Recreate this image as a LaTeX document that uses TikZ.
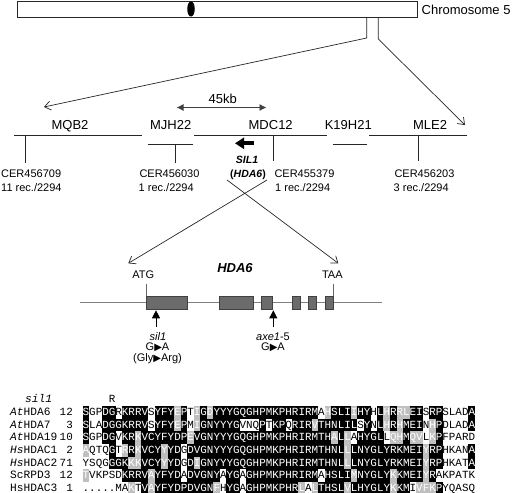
\documentclass[tikz,border=0pt]{standalone}
\usepackage{fontspec}
\setmainfont{Liberation Sans}
\newfontfamily\monof{Liberation Mono}
\newfontfamily\symf{DejaVu Sans}
\usetikzlibrary{arrows.meta,shapes.geometric}
\def\fillcolB{black}
\def\fillcolG{black!25}
\def\fillcolW{none}
\def\txtcolB{white}
\def\txtcolG{white}
\def\txtcolW{black}
\def\axo{82.7}
\def\ayo{412.4}
\def\acw{6.54}
\def\arh{12.65}
\newcommand\alignrow[2]{%
  \foreach \ch/\sh [count=\i] in {#2} {
    \path[fill=\csname fillcol\sh\endcsname] ({\axo+(\i-1)*\acw-0.1},{\ayo+(#1-1)*\arh-\arh/2-0.1}) rectangle ++({\acw+0.2},{\arh+0.2});
    \node[aln, text=\csname txtcol\sh\endcsname] (r#1c\i) at ({\axo+(\i-0.5)*\acw},{\ayo+(#1-1)*\arh}) {\ch};
  }}
\newcommand\tri{{\symf\fontsize{10}{10}\selectfont ▶}}
\begin{document}
\begin{tikzpicture}[x=1pt,y=-1pt,
  lab/.style={font=\fontsize{13}{15}\selectfont, inner sep=0, text height=9.3pt, text depth=0pt},
  sm/.style={font=\fontsize{11}{13}\selectfont, inner sep=0, text height=7.9pt, text depth=0pt},
  ln/.style={draw=black!85, line width=0.7pt},
  barb/.style={-{Straight Barb[length=6pt,width=9pt]}},
  aln/.style={font=\monof\fontsize{10.9}{12}\selectfont, inner sep=0, text height=6.2pt, text depth=0pt},
  nm/.style={font=\monof\fontsize{11.2}{13}\selectfont, inner sep=0, text height=6.4pt, text depth=0pt},
  exon/.style={fill=black!58, draw=black!75, line width=0.6pt}]
\useasboundingbox (0,0) rectangle (512,493);

% chromosome
\node[draw=black!85, line width=0.6pt, minimum width=400pt, minimum height=16pt, inner sep=0, anchor=north west] (chr) at (17,1) {};
\node[ellipse, fill=black, minimum width=7.5pt, minimum height=15pt, inner sep=0] (cen) at (191,9) {};
\node[lab, anchor=west] (chrlab) at (421.5,9.5) {Chromosome 5};
\coordinate (t1) at (366.7,17);
\coordinate (t1b) at (366.7,38);
\coordinate (t2) at (378.3,17);
\coordinate (t2b) at (378.3,39);
\coordinate (aL) at (44,107);
\coordinate (aR) at (465,125);
\draw[ln, barb] (t1) -- (t1b) -- (aL);
\draw[ln, barb] (t2) -- (t2b) -- (aR);

% 45 kb
\node[lab] (kb) at (222.7,99) {45kb};
\coordinate (kbL) at (176.5,107.5);
\coordinate (kbR) at (266.5,107.5);
\draw[line width=0.9pt, black!75, {Latex[length=7pt,width=7pt]}-{Latex[length=7pt,width=7pt]}] (kbL) -- (kbR);

% BAC contigs
\draw[ln] (14,135) -- (141.7,135);
\draw[ln] (148,144) -- (193,144);
\draw[ln] (194,135) -- (326.7,135);
\draw[ln] (333,144) -- (366.7,144);
\draw[ln] (369,135) -- (466.7,135);
\node[lab] (mqb) at (70,125) {MQB2};
\node[lab] (mjh) at (170.7,125) {MJH22};
\node[lab] (mdc) at (270.7,125) {MDC12};
\node[lab] (k19) at (348.3,125) {K19H21};
\node[lab] (mle) at (430,125) {MLE2};

% markers
\draw[ln] (25,135) -- (25,163.3);
\draw[ln] (175,144) -- (175,163.3);
\draw[ln] (273.3,135) -- (273.3,160.7);
\draw[ln] (418.3,135) -- (418.3,160.7);
\node[sm, anchor=west] (m1) at (1,174) {CER456709};
\node[sm, anchor=west] (m1r) at (1,187.5) {11 rec./2294};
\node[sm, anchor=west] (m2) at (139.3,174) {CER456030};
\node[sm, anchor=west] (m2r) at (138.5,187.5) {1 rec./2294};
\node[sm, anchor=west] (m3) at (274.3,174) {CER455379};
\node[sm, anchor=west] (m3r) at (275,187.5) {1 rec./2294};
\node[sm, anchor=west] (m4) at (394.3,174) {CER456203};
\node[sm, anchor=west] (m4r) at (393.5,187.5) {3 rec./2294};

% SIL1 arrow
\coordinate (s1a) at (253.5,143.3);
\coordinate (s1b) at (235,143.3);
\draw[line width=3.8pt, -{Triangle[length=9pt,width=11pt]}] (s1a) -- (s1b);
\node[inner sep=0, font=\fontsize{10.5}{12}\selectfont\bfseries\itshape, text height=7.6pt, text depth=0pt] (sil) at (247,159.5) {SIL1};
\node[inner sep=0, font=\fontsize{10.5}{12}\selectfont\bfseries, text height=7.6pt, text depth=0pt] (hda) at (248,174) {(\textit{HDA6})};

% zoom lines
\coordinate (zA) at (267,180);
\coordinate (zB) at (227,180);
\coordinate (zA2) at (128.3,263.3);
\coordinate (zB2) at (338.3,263.3);
\draw[ln, barb] (zA) -- (zA2);
\draw[ln, barb] (zB) -- (zB2);

% gene model
\node[inner sep=0, font=\fontsize{13}{15}\selectfont\bfseries\itshape, text height=9.3pt, text depth=0pt] (gene) at (235,268.3) {HDA6};
\node[sm] (atg) at (143.3,275) {ATG};
\node[sm] (taa) at (332.3,275) {TAA};
\draw[draw=black!50, line width=1.2pt] (80,302.7) -- (381.7,302.7);
\draw[exon] (146,296) rectangle (187.7,309.4);
\draw[exon] (219.3,296) rectangle (253.3,309.4);
\draw[exon] (261,296) rectangle (272.7,309.4);
\draw[exon] (292.3,296) rectangle (300.7,309.4);
\draw[exon] (308.3,296) rectangle (316.7,309.4);
\draw[exon] (325,296) rectangle (333.3,309.4);
\draw[draw=black!60, line width=0.8pt] (146.7,284) -- (146.7,296);
\draw[draw=black!60, line width=0.8pt] (333.3,284) -- (333.3,296);
\coordinate (u1) at (156,326.7);
\coordinate (u1t) at (156,310.3);
\coordinate (u2) at (273.3,326.7);
\coordinate (u2t) at (273.3,310.3);
\draw[line width=0.8pt, -{Triangle[length=8pt,width=8pt]}] (u1) -- (u1t);
\draw[line width=0.8pt, -{Triangle[length=8pt,width=8pt]}] (u2) -- (u2t);
\node[sm] (sil1) at (158,336.5) {\textit{sil1}};
\node[sm] (ga1) at (157.5,347) {G\tri A};
\node[sm] (gly) at (157.5,358) {(Gly\tri Arg)};
\node[sm] (axe) at (273,336.5) {\textit{axe1}-5};
\node[sm] (ga2) at (273,347) {G\tri A};

% alignment
\node[nm, anchor=west] (silname) at (25,399.7) {\textit{sil1}};
\node[aln] (rmut) at ({\axo+4.5*\acw},399.7) {R};
\node[nm, anchor=west] (n1) at (10,412.4) {\textit{At}HDA6};
\node[nm, anchor=west] (n2) at (10,425.05) {\textit{At}HDA7};
\node[nm, anchor=west] (n3) at (10,437.7) {\textit{At}HDA19};
\node[nm, anchor=west] (n4) at (10,450.35) {\textit{Hs}HDAC1};
\node[nm, anchor=west] (n5) at (10,463.0) {\textit{Hs}HDAC2};
\node[nm, anchor=west] (n6) at (10,475.65) {ScRPD3};
\node[nm, anchor=west] (n7) at (10,488.3) {HsHDAC3};
\node[aln, anchor=east] (p1) at (73,412.4) {12};
\node[aln, anchor=east] (p2) at (73,425.05) {3};
\node[aln, anchor=east] (p3) at (73,437.7) {10};
\node[aln, anchor=east] (p4) at (73,450.35) {2};
\node[aln, anchor=east] (p5) at (73,463.0) {71};
\node[aln, anchor=east] (p6) at (73,475.65) {12};
\node[aln, anchor=east] (p7) at (73,488.3) {1};

\alignrow{1}{S/B,G/W,P/W,D/B,G/B,R/W,K/B,R/B,R/B,V/B,S/W,Y/B,F/B,Y/B,E/G,P/B,T/W,I/G,G/B,D/G,Y/B,Y/B,Y/B,G/B,Q/B,G/B,H/B,P/B,M/B,K/B,P/B,H/B,R/B,I/B,R/B,M/B,A/W,H/G,S/B,L/B,I/B,I/G,H/B,Y/B,H/W,L/B,H/G,R/B,R/G,L/G,E/B,I/B,S/W,R/B,P/B,S/W,L/W,A/W,D/W,A/B}
\alignrow{2}{S/B,L/W,A/W,D/B,G/B,G/B,K/B,R/B,R/B,V/B,S/W,Y/B,F/B,Y/B,E/G,P/B,M/W,I/G,G/B,N/B,Y/B,Y/B,Y/B,G/B,V/W,N/W,Q/W,P/B,T/W,K/B,P/B,Q/W,R/B,I/B,R/B,V/G,T/B,H/B,N/B,L/B,I/B,L/B,S/W,Y/B,N/W,L/B,H/G,R/B,H/G,M/B,E/B,I/B,N/W,H/G,P/B,D/W,L/W,A/W,D/W,A/B}
\alignrow{3}{S/B,G/W,P/W,D/B,G/B,V/W,K/B,R/B,K/G,V/B,C/B,Y/B,F/B,Y/B,D/B,P/B,E/G,V/B,G/B,N/B,Y/B,Y/B,Y/B,G/B,Q/B,G/B,H/B,P/B,M/B,K/B,P/B,H/B,R/B,I/B,R/B,M/B,T/B,H/B,A/G,L/B,L/G,A/W,H/B,Y/B,G/B,L/B,L/W,Q/G,H/G,M/B,Q/G,V/G,L/W,K/G,P/B,F/W,P/W,A/W,R/W,D/W}
\alignrow{4}{A/G,Q/W,T/W,Q/W,G/B,T/W,R/G,R/B,K/G,V/B,C/B,Y/B,Y/G,Y/B,D/B,G/W,D/B,V/B,G/B,N/B,Y/B,Y/B,Y/B,G/B,Q/B,G/B,H/B,P/B,M/B,K/B,P/B,H/B,R/B,I/B,R/B,M/B,T/B,H/B,N/B,L/B,L/G,L/B,N/B,Y/B,G/B,L/B,Y/B,R/B,K/B,M/B,E/B,I/B,Y/G,R/B,P/B,H/W,K/W,A/W,N/W,A/B}
\alignrow{5}{Y/W,S/W,Q/W,G/W,G/B,G/B,K/B,K/G,K/G,V/B,C/B,Y/B,Y/G,Y/B,D/B,G/W,D/B,I/G,G/B,N/B,Y/B,Y/B,Y/B,G/B,Q/B,G/B,H/B,P/B,M/B,K/B,P/B,H/B,R/B,I/B,R/B,M/B,T/B,H/B,N/B,L/B,L/G,L/B,N/B,Y/B,G/B,L/B,Y/B,R/B,K/B,M/B,E/B,I/B,Y/G,R/B,P/B,H/W,K/W,A/W,T/W,A/B}
\alignrow{6}{T/G,V/W,K/W,P/W,S/W,D/W,K/B,R/B,R/B,V/B,A/G,Y/B,F/B,Y/B,D/B,A/W,D/B,V/B,G/B,N/B,Y/B,A/W,Y/B,G/B,A/W,G/B,H/B,P/B,M/B,K/B,P/B,H/B,R/B,I/B,R/B,M/B,A/W,H/B,S/B,L/B,I/B,M/G,N/B,Y/B,G/B,L/B,Y/B,K/G,K/B,M/B,E/B,I/B,Y/G,R/B,A/W,K/W,P/W,A/W,T/W,K/W}
\alignrow{7}{./W,./W,./W,./W,./W,M/W,A/W,K/G,T/W,V/B,A/G,Y/B,F/B,Y/B,D/B,P/B,D/B,V/B,G/B,N/B,F/G,H/W,Y/B,G/B,A/W,G/B,H/B,P/B,M/B,K/B,P/B,H/B,R/B,L/G,A/W,L/G,T/B,H/B,S/B,L/B,V/G,L/B,H/B,Y/B,G/B,L/B,Y/B,K/G,K/B,M/B,I/W,V/G,F/G,K/G,P/B,Y/W,Q/W,A/W,S/W,Q/W}
\end{tikzpicture}
\end{document}
